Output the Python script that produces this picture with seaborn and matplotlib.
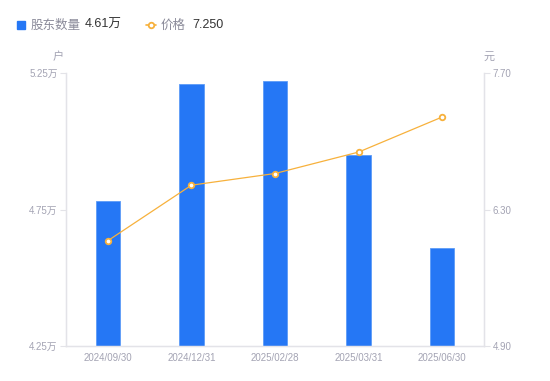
import numpy as np
import pandas as pd
import matplotlib
matplotlib.use('Agg')
import matplotlib.pyplot as plt
import seaborn as sns
from matplotlib.lines import Line2D
from matplotlib.patches import Rectangle

sns.set_style('white')
plt.rcParams['font.family'] = ['Liberation Sans', 'Noto Sans CJK SC', 'DejaVu Sans']

dates = ['2024/09/30', '2024/12/31', '2025/02/28', '2025/03/31', '2025/06/30']
holders = [4.78, 5.21, 5.22, 4.95, 4.61]   # 万户
price = [5.98, 6.55, 6.67, 6.89, 7.25]     # 元
left_ticks = [4.25, 4.75, 5.25]
right_ticks = [4.90, 6.30, 7.70]

blue = '#2577f5'
orange = '#f7b13c'
grey_txt = '#a3a3b3'
grey_line = '#e3e3e8'
cjk = ['Noto Sans CJK SC', 'DejaVu Sans']

df = pd.DataFrame({'date': dates, 'holders': holders, 'price': price})

fig = plt.figure(figsize=(5.5, 3.81), dpi=100)
ax = fig.add_axes([0.12, 0.092, 0.76, 0.716])

sns.barplot(data=df, x='date', y='holders', color=blue, width=0.29,
            saturation=1, edgecolor='#5d9bf7', linewidth=0.6, ax=ax)
ax.set_ylim(left_ticks[0], left_ticks[-1])
ax.set_yticks(left_ticks)
ax.set_yticklabels([f'{v:.2f}万' for v in left_ticks])
ax.set_xlim(-0.5, len(dates) - 0.5)
ax.set_xlabel('')
ax.set_ylabel('')

ax2 = ax.twinx()
sns.pointplot(data=df, x='date', y='price', color=orange, markers='o',
              linewidth=0.9, markersize=4, ax=ax2)
for ln in ax2.lines:
    ln.set_markerfacecolor('white')
    ln.set_markeredgecolor(orange)
    ln.set_markeredgewidth(1.3)
ax2.set_ylim(right_ticks[0], right_ticks[-1])
ax2.set_yticks(right_ticks)
ax2.set_yticklabels([f'{v:.2f}' for v in right_ticks])
ax2.set_xlim(-0.5, len(dates) - 0.5)
ax2.set_xlabel('')
ax2.set_ylabel('')

for a in (ax, ax2):
    a.spines['top'].set_visible(False)
    for side in ('left', 'right', 'bottom'):
        a.spines[side].set_color(grey_line)
        a.spines[side].set_linewidth(0.9)
    a.tick_params(axis='y', length=4, width=0.8, color=grey_line,
                  labelsize=7, labelcolor=grey_txt, pad=2)
    a.tick_params(axis='x', length=0, labelsize=7, labelcolor=grey_txt, pad=5)

# unit labels
fig.text(58 / 550, 1 - 57 / 381, '户', fontsize=8, color=grey_txt, ha='center', va='center', family=cjk)
fig.text(489 / 550, 1 - 57 / 381, '元', fontsize=8, color=grey_txt, ha='center', va='center', family=cjk)

# legend
fig.patches.append(Rectangle((17 / 550, 1 - 29 / 381), 8 / 550, 8 / 381,
                             transform=fig.transFigure, color=blue, zorder=3))
fig.text(31 / 550, 1 - 25 / 381, '股东数量', fontsize=9, color='#8a8a99', va='center', family=cjk)
fig.text(85 / 550, 1 - 25 / 381, f'{holders[-1]:.2f}万', fontsize=9, color='#333333', va='center')
fig.add_artist(Line2D([146 / 550, 156 / 550], [1 - 25 / 381, 1 - 25 / 381],
                      transform=fig.transFigure, color=orange, lw=1.2))
fig.add_artist(Line2D([151 / 550], [1 - 25 / 381], transform=fig.transFigure,
                      color=orange, marker='o', markersize=4, mfc='white', mew=1.3, lw=0))
fig.text(161 / 550, 1 - 25 / 381, '价格', fontsize=9, color='#8a8a99', va='center', family=cjk)
fig.text(192 / 550, 1 - 25 / 381, f'{price[-1]:.3f}', fontsize=9, color='#333333', va='center')

fig.savefig('out.png', dpi=100)
